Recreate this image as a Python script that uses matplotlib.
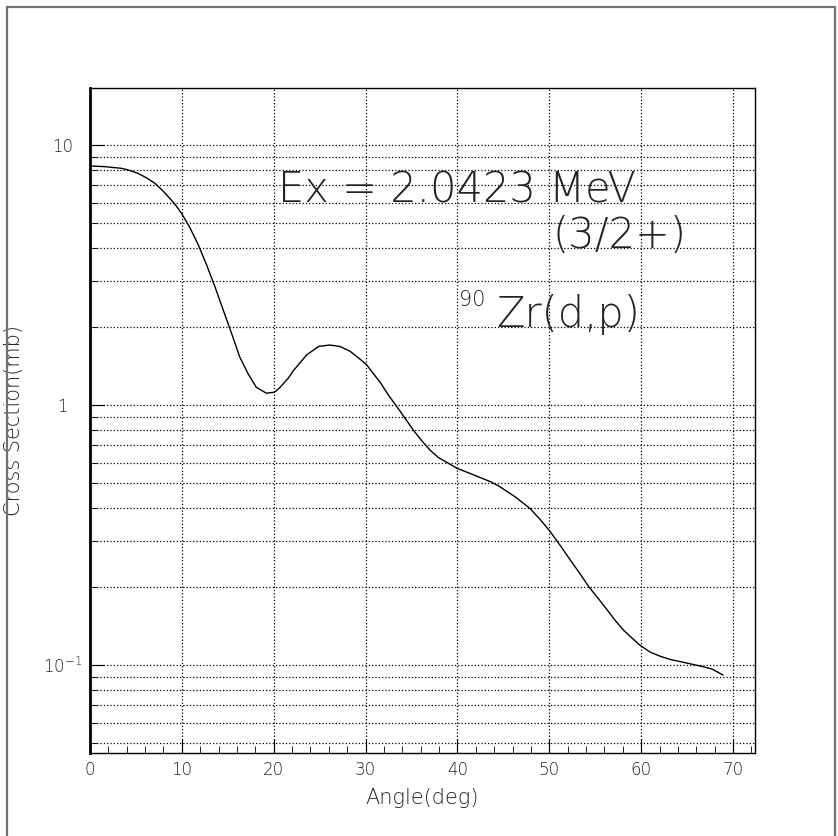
import matplotlib
matplotlib.use("Agg")
import matplotlib.pyplot as plt
from matplotlib.patches import Rectangle
from matplotlib.ticker import FixedLocator, NullFormatter

plt.rcParams['font.family'] = ['DejaVu Sans']
plt.rcParams['font.weight'] = 200
plt.rcParams['axes.labelweight'] = 200
plt.rcParams['mathtext.default'] = 'regular'

# curve (angle in deg, cross section in mb)
angle = [0.0, 1.6, 3.4, 4.1, 5.2, 6.1, 7.05, 7.95, 8.85, 9.4, 10.0, 10.9,
         11.8, 12.7, 13.6, 14.5, 15.4, 16.3, 17.2, 18.1, 19.2, 20.1, 20.7,
         21.6, 22.1, 22.7, 23.6, 24.9, 26.1, 27.2, 28.3, 29.2, 30.1, 31.6,
         32.5, 33.4, 34.3, 35.2, 36.1, 37.0, 37.9, 38.9, 40.0, 41.8, 42.7,
         43.6, 44.5, 45.4, 46.3, 46.8, 47.9, 49.0, 50.1, 51.2, 52.3, 53.4,
         54.3, 55.4, 56.3, 57.2, 58.1, 59.0, 59.9, 61.0, 62.1, 63.2, 64.3,
         65.4, 66.5, 67.7, 68.9]
xsec = [8.30, 8.25, 8.13, 8.02, 7.78, 7.49, 7.13, 6.65, 6.14, 5.82, 5.43, 4.79,
        4.12, 3.45, 2.85, 2.32, 1.89, 1.53, 1.32, 1.17, 1.11, 1.12, 1.17,
        1.27, 1.35, 1.43, 1.56, 1.68, 1.70, 1.68, 1.61, 1.52, 1.43, 1.22,
        1.09, 0.986, 0.889, 0.80, 0.730, 0.671, 0.629, 0.600, 0.570, 0.538, 0.522,
        0.507, 0.488, 0.465, 0.443, 0.429, 0.40, 0.363, 0.326, 0.288, 0.253, 0.223,
        0.200, 0.179, 0.163, 0.148, 0.136, 0.127, 0.119, 0.112, 0.108, 0.105, 0.103,
        0.101, 0.099, 0.0966, 0.0916]

x_major = [0, 10, 20, 30, 40, 50, 60, 70]
y_major = [0.1, 1, 10]
y_labels = ['$10^{-1}$', '1', '10']

fig = plt.figure(figsize=(8.38, 8.36), dpi=100)
ax = fig.add_axes([0.1074, 0.0993, 0.7936, 0.7955])

ax.plot(angle, xsec, color='black', lw=1.0, solid_joinstyle='round')
ax.set_yscale('log')
ax.set_xlim(0, 72.4)
ax.set_ylim(0.0459, 16.56)

ax.set_xticks(x_major)
ax.set_xticks(range(0, 73, 2), minor=True)
ax.set_yticks(y_major)
ax.set_yticklabels(y_labels)
ygrid = [m * 10.0 ** e for e in (-2, -1, 0) for m in range(2, 10)]
ax.yaxis.set_minor_locator(FixedLocator(ygrid))
ax.yaxis.set_minor_formatter(NullFormatter())

ax.tick_params(which='both', direction='in', top=False, right=False,
               labelsize=12, labelcolor='#222222')
ax.tick_params(axis='x', which='major', length=10, pad=6)
ax.tick_params(axis='x', which='minor', length=5)
ax.tick_params(axis='y', which='major', length=10, pad=20)
ax.tick_params(axis='y', which='minor', length=5)
for lab in ax.get_yticklabels():
    lab.set_horizontalalignment('center')

ax.grid(True, which='major', axis='x', ls=':', color='black', lw=0.9)
ax.grid(True, which='both', axis='y', ls=':', color='black', lw=0.9)
for s in ax.spines.values():
    s.set_linewidth(1.0)
ax.spines['left'].set_linewidth(2.0)

ax.set_xlabel('Angle(deg)', fontsize=15, color='#222222')
ax.xaxis.set_label_coords(0.5, -0.053)
ax.set_ylabel('Cross Section(mb)', fontsize=15, color='#222222')
ax.yaxis.set_label_coords(-0.099, 0.5)

ax.text(0.283, 0.827, 'Ex = 2.0423 MeV', transform=ax.transAxes, fontsize=30,
        color='#222222', ha='left', va='baseline')
ax.text(0.695, 0.759, '(3/2+)', transform=ax.transAxes, fontsize=30,
        color='#222222', ha='left', va='baseline')
ax.text(0.555, 0.672, '90', transform=ax.transAxes, fontsize=15,
        color='#222222', ha='left', va='baseline')
ax.text(0.61, 0.641, 'Zr(d,p)', transform=ax.transAxes, fontsize=30,
        color='#222222', ha='left', va='baseline')

fig.patches.append(Rectangle((6.5 / 838, -0.01), 828 / 838, 1 - 6.5 / 836 + 0.01,
                             transform=fig.transFigure, fill=False,
                             edgecolor='#707070', lw=1.6))

fig.savefig('out.png', dpi=100)
